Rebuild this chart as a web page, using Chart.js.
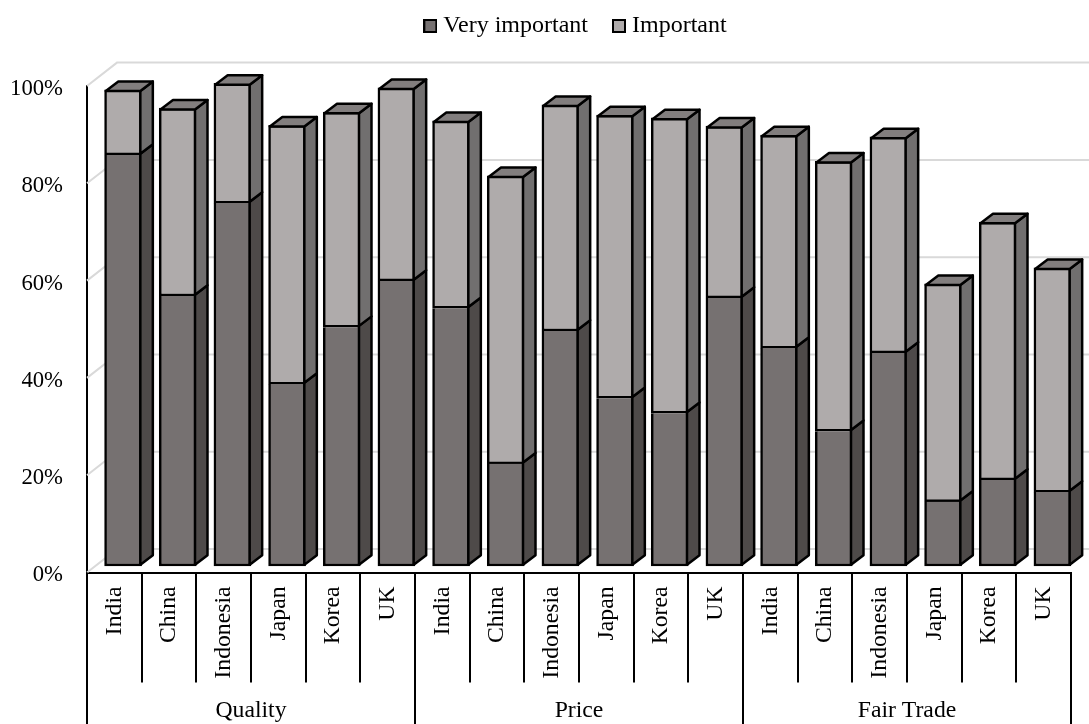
<!DOCTYPE html>
<html><head><meta charset="utf-8">
<style>html,body{margin:0;padding:0;background:#fff}canvas{display:block}</style>
<script src="https://cdn.jsdelivr.net/npm/chart.js@4"></script>
</head><body><canvas id="c" width="1089" height="724"></canvas>
<script>
const countries = ["India","China","Indonesia","Japan","Korea","UK"];
const groups = ["Quality","Price","Fair Trade"];
const categories = [...countries,...countries,...countries];
const veryImportant = [84.5,55.5,74.6,37.4,49.1,58.6, 53.0,21.0,48.3,34.5,31.4,55.1, 44.8,27.7,43.8,13.2,17.7,15.2];
const important =     [13.4,38.6,24.6,53.2,44.2,39.7, 38.5,59.2,46.5,58.2,60.7,35.3, 43.8,55.5,44.4,44.8,53.0,46.1];
const yTicks = [0,20,40,60,80,100];

const FONT = '"Liberation Serif"';
const C = {dark:'#767171', darkSide:'#4e4a49', light:'#afabab', lightSide:'#716f6f', top:'#827e7e', grid:'#d9d9d9'};
const LW = 2.5;

function swatch(fill){
  const c = document.createElement('canvas'); c.width = 14; c.height = 14;
  const g = c.getContext('2d');
  g.fillStyle = fill; g.fillRect(1,1,12,12);
  g.strokeStyle = '#000'; g.lineWidth = 2; g.strokeRect(1,1,12,12);
  return c;
}
function poly(ctx, pts, fill){
  ctx.beginPath();
  pts.forEach((p,i)=> i ? ctx.lineTo(p[0],p[1]) : ctx.moveTo(p[0],p[1]));
  ctx.closePath();
  ctx.fillStyle = fill; ctx.fill();
  ctx.lineWidth = LW; ctx.strokeStyle = '#000'; ctx.lineJoin='round'; ctx.stroke();
}
const depth3D = {
  id:'depth3D',
  beforeLayout(chart){
    const lg = chart.legend;
    if (lg && !lg._wrapped){
      const f = lg.fit;
      lg.fit = function(){ f.call(this); this.height = 86; };
      lg._wrapped = true;
    }
  },
  afterLayout(chart){
    chart.legend.left = 85;
    chart.legend.top = -16;
    chart.legend.adjustHitBoxes();
  },
  beforeDatasetsDraw(chart){
    // back wall and side wall gridlines
    const ctx = chart.ctx, y = chart.scales.y, a = chart.chartArea, dx = 30, dy = 23.4;
    ctx.save();
    ctx.strokeStyle = C.grid; ctx.lineWidth = 2;
    y.ticks.forEach(t=>{
      const py = y.getPixelForValue(t.value);
      ctx.beginPath();
      ctx.moveTo(a.left, py);
      ctx.lineTo(a.left+dx, py-dy);
      ctx.lineTo(chart.width, py-dy);
      ctx.stroke();
    });
    ctx.restore();
  },
  afterDatasetsDraw(chart){
    const ctx = chart.ctx, dx = 12.5, dy = 9.5, k = LW/2;
    const m0 = chart.getDatasetMeta(0).data, m1 = chart.getDatasetMeta(1).data;
    ctx.save();
    m0.forEach((b0,i)=>{
      const b1 = m1[i];
      const l = b0.x-b0.width/2+k, r = b0.x+b0.width/2-k;
      poly(ctx,[[r,b0.base-k],[r+dx,b0.base-k-dy],[r+dx,b0.y-k-dy],[r,b0.y-k]],C.darkSide);
      poly(ctx,[[r,b0.y-k],[r+dx,b0.y-k-dy],[r+dx,b1.y+k-dy],[r,b1.y+k]],C.lightSide);
      poly(ctx,[[l,b1.y+k],[l+dx,b1.y+k-dy],[r+dx,b1.y+k-dy],[r,b1.y+k]],C.top);
    });
    ctx.restore();
  },
  afterDraw(chart){
    const ctx = chart.ctx, x = chart.scales.x, a = chart.chartArea;
    const n = categories.length, per = n/groups.length, step = (a.right-a.left)/n;
    ctx.save();
    ctx.strokeStyle='#000'; ctx.lineWidth=2;
    for(let g=0;g<=groups.length;g++){
      const px = a.left + g*per*step;
      ctx.beginPath(); ctx.moveTo(px,a.bottom); ctx.lineTo(px,chart.height); ctx.stroke();
    }
    ctx.fillStyle='#000'; ctx.font='23.7px '+FONT; ctx.textAlign='center'; ctx.textBaseline='middle';
    groups.forEach((g,i)=>{
      const c = (x.getPixelForValue(i*per)+x.getPixelForValue(i*per+per-1))/2;
      ctx.fillText(g,c,711);
    });
    ctx.restore();
  }
};
const swatches = [swatch(C.dark), swatch(C.light)];
new Chart(document.getElementById('c'),{
  type:'bar',
  plugins:[depth3D],
  data:{
    labels:categories,
    datasets:[
      {label:'Very important',data:veryImportant.map((v,i)=>({x:i,y:v})),backgroundColor:C.dark,
       borderColor:'#000',borderWidth:LW,borderSkipped:'top',xAxisID:'xBars',yAxisID:'yBars',barThickness:37,clip:false,stack:'s'},
      {label:'Important',data:important.map((v,i)=>({x:i,y:v})),backgroundColor:C.light,
       borderColor:'#000',borderWidth:LW,borderSkipped:false,xAxisID:'xBars',yAxisID:'yBars',barThickness:37,clip:false,stack:'s'}
    ]
  },
  options:{
    responsive:false,animation:false,devicePixelRatio:1,
    layout:{padding:{left:0,right:18,top:0,bottom:0}},
    plugins:{
      tooltip:{enabled:false},
      legend:{position:'top',labels:{color:'#000',usePointStyle:true,pointStyleWidth:2,boxHeight:12,padding:30,font:{family:FONT,size:24},
        generateLabels(chart){
          return Chart.defaults.plugins.legend.labels.generateLabels(chart).map((it,i)=>({...it,pointStyle:swatches[i]}));
        }}}
    },
    scales:{
      x:{type:'category',position:'bottom',offset:true,
         afterFit(s){s.height=151.5;},
         border:{color:'#000',width:2},
         grid:{offset:true,drawOnChartArea:false,color:'#000',lineWidth:2,tickLength:110,drawTicks:true},
         ticks:{autoSkip:false,minRotation:90,maxRotation:90,color:'#000',padding:-96,font:{family:FONT,size:23.7}}},
      y:{type:'linear',position:'left',min:0,max:100,
         afterFit(s){s.width=87;},
         afterBuildTicks(s){s.ticks=yTicks.map(v=>({value:v}));},
         border:{color:'#000',width:2},
         grid:{drawOnChartArea:false,drawTicks:false},
         ticks:{color:'#000',padding:24,labelOffset:3,callback:v=>v+'%',font:{family:FONT,size:22.7}}},
      xBars:{type:'linear',axis:'x',position:'bottom',display:false,stacked:true,offset:false,min:-0.66,max:17.34},
      yBars:{type:'linear',axis:'y',position:'left',display:false,stacked:true,min:-1.336,max:98.664}
    }
  }
});
</script></body></html>
